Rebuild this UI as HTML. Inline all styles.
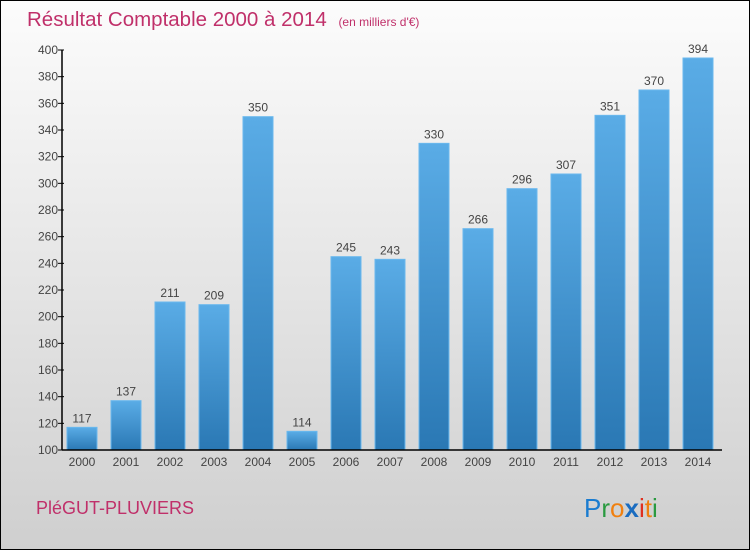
<!DOCTYPE html>
<html><head><meta charset="utf-8"><style>
body{margin:0;width:750px;height:550px;overflow:hidden;font-family:"Liberation Sans",sans-serif}
#frame{position:absolute;left:0;top:0;width:748px;height:548px;border:1px solid #000;background:linear-gradient(#fcfcfc,#cfcfcf)}
</style></head><body>
<div id="frame">
<svg width="750" height="550" id="svg" style="position:absolute;left:-1px;top:-1px">
<defs><linearGradient id="bg" x1="0" y1="0" x2="0" y2="1"><stop offset="0" stop-color="#5aace6"/><stop offset="1" stop-color="#2a78b4"/></linearGradient></defs>
<text x="27" y="26" font-size="20.5" fill="#c0306a">Résultat Comptable 2000 à 2014 <tspan font-size="12" dx="6">(en milliers d'€)</tspan></text>
<text x="36" y="514" font-size="18" fill="#c0306a">PléGUT-PLUVIERS</text>
<g font-size="26" font-family="Liberation Sans, sans-serif">
<text x="584" y="517"><tspan fill="#1a7cd0">P</tspan><tspan fill="#2a9a40">r</tspan><tspan fill="#f08010">o</tspan><tspan fill="#1a6cc0" font-weight="bold">x</tspan><tspan fill="#e03020">i</tspan><tspan fill="#f08010">t</tspan><tspan fill="#2a9a40">i</tspan></text></g>
<g id="plot"></g>
</svg></div>
<script>
const years=["2000","2001","2002","2003","2004","2005","2006","2007","2008","2009","2010","2011","2012","2013","2014"];
const values=[117,137,211,209,350,114,245,243,330,266,296,307,351,370,394];
const ticks=[100,120,140,160,180,200,220,240,260,280,300,320,340,360,380,400];
const NS="http://www.w3.org/2000/svg";
const g=document.getElementById('plot');
const x0=62,x1=722,yTop=50,yBot=450,vmin=100,vmax=400;
const band=(x1-x0)/years.length;
const y=v=>yBot-(v-vmin)/(vmax-vmin)*(yBot-yTop);
function mk(t,a,txt){const e=document.createElementNS(NS,t);for(const k in a)e.setAttribute(k,a[k]);if(txt!==undefined)e.textContent=txt;g.appendChild(e);return e;}
values.forEach((v,i)=>{
const bx=x0+band*i+5,bw=band-14;
const r=mk('rect',{x:bx,y:y(v),width:bw,height:yBot-y(v),fill:'url(#bg)',stroke:'#6ab8ee','stroke-width':1});


const t=mk('text',{x:bx+bw/2,y:y(v)-5,'font-size':12,fill:'#444','text-anchor':'middle'},String(v));


const xl=mk('text',{x:bx+bw/2,y:466,'font-size':12,fill:'#444','text-anchor':'middle'},years[i]);


});
ticks.forEach(v=>{
mk('line',{x1:x0-4,x2:x0+2,y1:y(v),y2:y(v),stroke:'#000'});
const t=mk('text',{x:x0-4,y:y(v)+4,'font-size':12,fill:'#444','text-anchor':'end'},String(v));


});
const ya=mk('line',{x1:x0,x2:x0,y1:yTop,y2:yBot,stroke:'#000','stroke-width':1.5});


const xa=mk('line',{x1:x0,x2:x1,y1:yBot,y2:yBot,stroke:'#000','stroke-width':1.5});


</script>
</body></html>
